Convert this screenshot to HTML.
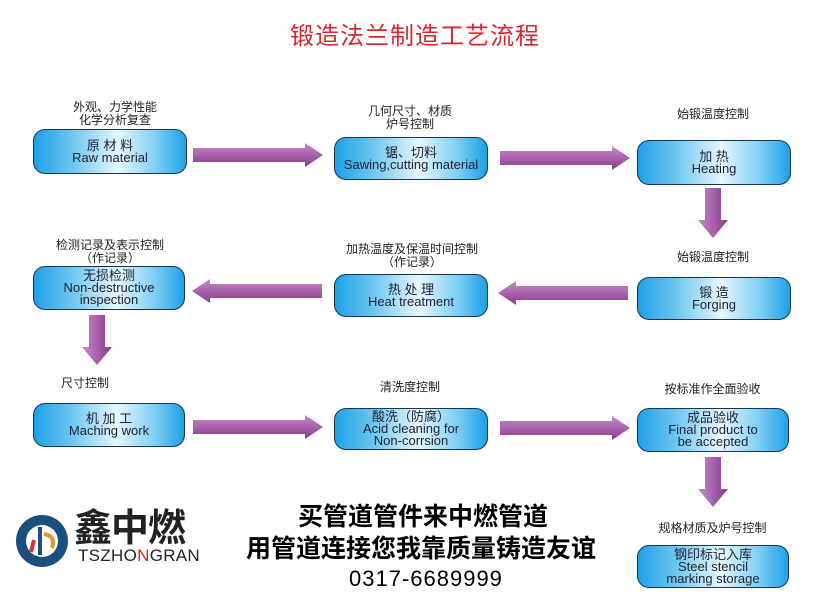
<!DOCTYPE html>
<html><head><meta charset="utf-8"><style>
body{margin:0;width:828px;height:616px;background:#fff;position:relative;overflow:hidden;font-family:"Liberation Sans","Noto Sans CJK SC",sans-serif}
.b{position:absolute;border:1.5px solid #1a3550;border-radius:12px;box-sizing:border-box;background:linear-gradient(90deg,#1ea0e6 0%,#6cc6f0 25%,#e6f6fd 55%,#7fd0f4 80%,#1ea0e6 100%);text-align:center;color:#223;font-size:13px;line-height:12px;display:flex;flex-direction:column;justify-content:center}
.l{position:absolute;font-size:12px;color:#222;text-align:center;line-height:13px;font-family:"Noto Sans CJK SC",sans-serif}
.s{position:absolute;font-family:"Noto Sans CJK SC",sans-serif;font-weight:bold;color:#000;font-size:25px;line-height:30px;white-space:nowrap}
</style></head><body>
<div style="position:absolute;left:265px;top:16px;width:300px;text-align:center;color:#d8262e;font-size:24px;font-family:'Noto Sans CJK SC',sans-serif;letter-spacing:1px">锻造法兰制造工艺流程</div>

<div class="l" style="left:40px;top:100px;width:150px">外观、力学性能<br>化学分析复查</div>
<div class="l" style="left:335px;top:104px;width:150px">几何尺寸、材质<br>炉号控制</div>
<div class="l" style="left:637px;top:107px;width:152px">始锻温度控制</div>
<div class="l" style="left:30px;top:238px;width:160px">检测记录及表示控制<br>（作记录）</div>
<div class="l" style="left:322px;top:242px;width:180px">加热温度及保温时间控制<br>（作记录）</div>
<div class="l" style="left:637px;top:250px;width:152px">始锻温度控制</div>
<div class="l" style="left:10px;top:376px;width:150px">尺寸控制</div>
<div class="l" style="left:335px;top:380px;width:150px">清洗度控制</div>
<div class="l" style="left:630px;top:382px;width:165px">按标准作全面验收</div>
<div class="l" style="left:630px;top:521px;width:165px">规格材质及炉号控制</div>

<div class="b" style="left:33px;top:129px;width:154px;height:45px">原 材 料<br>Raw material</div>
<div class="b" style="left:334px;top:137px;width:154px;height:43px">锯、切料<br>Sawing,cutting material</div>
<div class="b" style="left:637px;top:140px;width:154px;height:45px">加 热<br>Heating</div>
<div class="b" style="left:33px;top:266px;width:152px;height:44px">无损检测<br>Non-destructive<br>inspection</div>
<div class="b" style="left:334px;top:274px;width:154px;height:43px">热 处 理<br>Heat treatment</div>
<div class="b" style="left:637px;top:277px;width:154px;height:43px">锻 造<br>Forging</div>
<div class="b" style="left:33px;top:403px;width:152px;height:44px">机 加 工<br>Maching work</div>
<div class="b" style="left:334px;top:408px;width:154px;height:42px">酸洗（防腐）<br>Acid cleaning for<br>Non-corrsion</div>
<div class="b" style="left:637px;top:408px;width:152px;height:44px">成品验收<br>Final product to<br>be accepted</div>
<div class="b" style="left:637px;top:545px;width:152px;height:43px">钢印标记入库<br>Steel stencil<br>marking storage</div>

<svg width="828" height="616" style="position:absolute;left:0;top:0">
<defs><linearGradient id="g" x1="0" y1="0" x2="0" y2="1"><stop offset="0" stop-color="#c58bc8"/><stop offset="1" stop-color="#8a3a8e"/></linearGradient>
<linearGradient id="gv" x1="0" y1="0" x2="1" y2="0"><stop offset="0" stop-color="#c58bc8"/><stop offset="1" stop-color="#8a3a8e"/></linearGradient>
<g id="ar"><polygon points="0,-7 112,-7 112,-12 130,0 112,12 112,7 0,7" fill="url(#g)"/></g>
<g id="ad"><polygon points="-8,0 8,0 8,32 15,32 0,50 -15,32 -8,32" fill="url(#gv)"/></g></defs>
<use href="#ar" x="193" y="155"/>
<use href="#ar" x="500" y="158"/>
<use href="#ar" transform="translate(322,291) scale(-1,1)"/>
<use href="#ar" transform="translate(628,293) scale(-1,1)"/>
<use href="#ar" x="193" y="427"/>
<use href="#ar" x="500" y="428"/>
<use href="#ad" x="713" y="188"/>
<use href="#ad" x="97" y="315"/>
<use href="#ad" x="713" y="457"/>
<circle cx="42" cy="541" r="26" fill="#1b4f7e"/>
<circle cx="42" cy="541" r="16" fill="#fff"/>
<rect x="38" y="527" width="4" height="28" fill="#1b4f7e"/>
<path d="M44 534 q12 2 8 14" stroke="#e8922a" stroke-width="4" fill="none"/>
<path d="M34 540 l-3 12" stroke="#d33" stroke-width="4"/>
</svg>
<div style="position:absolute;left:74px;top:504px;font-size:38px;font-weight:bold;font-family:'Noto Sans CJK SC',sans-serif;color:#222;letter-spacing:-1px;line-height:42px">鑫中燃</div>
<div style="position:absolute;left:78px;top:546px;font-size:17px;color:#222;letter-spacing:0.3px">TSZHO<span style="color:#d22">N</span>GRAN</div>
<div class="s" style="left:298px;top:500px">买管道管件来中燃管道</div>
<div class="s" style="left:246px;top:532px">用管道连接您我靠质量铸造友谊</div>
<div class="s" style="left:349px;top:564px;font-size:22px;font-family:'Liberation Sans',sans-serif;font-weight:normal;letter-spacing:1px">0317-6689999</div>
</body></html>
